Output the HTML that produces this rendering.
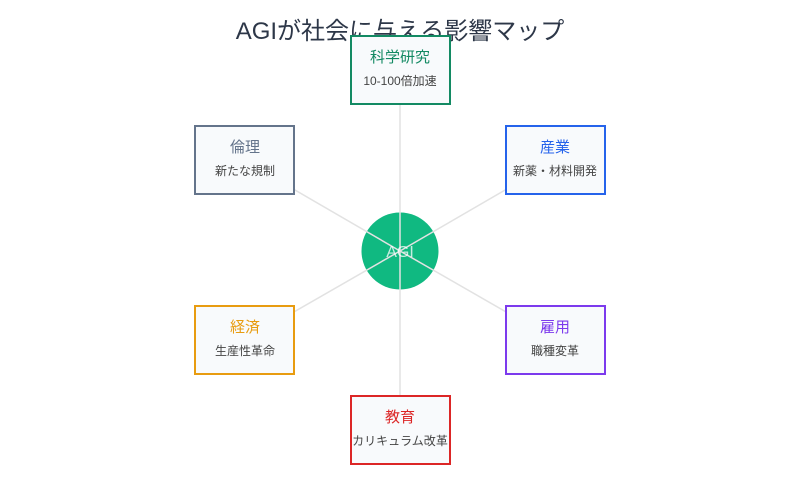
<!DOCTYPE html>
<html><head><meta charset="utf-8"><style>
html,body{margin:0;padding:0;background:#fff;}
svg{display:block;font-family:"Liberation Sans","Noto Sans CJK JP",sans-serif;}
</style></head><body>
<svg width="800" height="500" viewBox="0 0 800 500">
<rect width="800" height="500" fill="#fff"/>
<text x="400" y="39" text-anchor="middle" font-size="24" fill="#2d3748">AGIが社会に与える影響マップ</text>
<circle cx="400" cy="251" r="38.5" fill="#10b981"/>
<g stroke="#e2e2e2" stroke-width="1.5">
<line x1="400" y1="251" x2="400" y2="70"/>
<line x1="400" y1="251" x2="400" y2="430"/>
<line x1="400" y1="251" x2="555" y2="161"/>
<line x1="400" y1="251" x2="245" y2="161"/>
<line x1="400" y1="251" x2="555" y2="340"/>
<line x1="400" y1="251" x2="245" y2="340"/>
</g>
<text x="400" y="257" text-anchor="middle" font-size="16" fill="#fff" fill-opacity="0.75">AGI</text>
<g stroke-width="2" fill="#f8fafc">
<rect x="351" y="36" width="99" height="68" stroke="#138a63"/>
<rect x="506" y="126" width="99" height="68" stroke="#2563eb"/>
<rect x="195" y="126" width="99" height="68" stroke="#64748b"/>
<rect x="195" y="306" width="99" height="68" stroke="#e89c10"/>
<rect x="506" y="306" width="99" height="68" stroke="#7c3aed"/>
<rect x="351" y="396" width="99" height="68" stroke="#dc2626"/>
</g>
<g text-anchor="middle">
<text x="400" y="62" font-size="15" fill="#138a63">科学研究</text>
<text x="400" y="85" font-size="12" fill="#444">10-100倍加速</text>
<text x="555" y="152" font-size="15" fill="#2563eb">産業</text>
<text x="555" y="175" font-size="12" fill="#444">新薬・材料開発</text>
<text x="245" y="152" font-size="15" fill="#64748b">倫理</text>
<text x="245" y="175" font-size="12" fill="#444">新たな規制</text>
<text x="245" y="332" font-size="15" fill="#e89c10">経済</text>
<text x="245" y="355" font-size="12" fill="#444">生産性革命</text>
<text x="555" y="332" font-size="15" fill="#7c3aed">雇用</text>
<text x="555" y="355" font-size="12" fill="#444">職種変革</text>
<text x="400" y="422" font-size="15" fill="#dc2626">教育</text>
<text x="400" y="445" font-size="12" fill="#444">カリキュラム改革</text>
</g>
</svg>
</body></html>
